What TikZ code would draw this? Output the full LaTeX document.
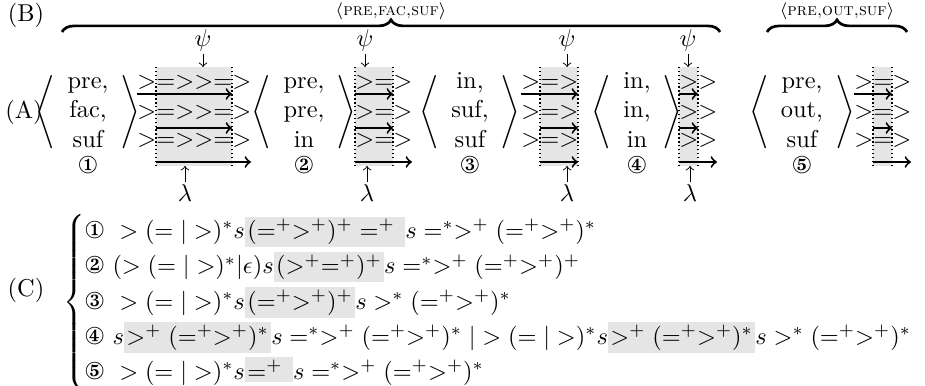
\documentclass[tikz,border=0pt]{standalone}
\usepackage{amsmath}
\usepackage{pifont}
\usetikzlibrary{decorations.pathreplacing}

\tikzset{
  llave/.style={decorate, decoration={brace, amplitude=5pt}, line width=1.1pt},
  sombra/.style={fill=gray!20, draw=none},
  limite/.style={densely dotted, semithick},
  flecha/.style={->, thick},
  marca/.style={->, thin},
  fila/.style={anchor=west, inner sep=0pt},
}
\newcommand{\resalte}[1]{{\setlength{\fboxsep}{1pt}\colorbox{gray!20}{$#1$}}}

\begin{document}
\begin{tikzpicture}[x=0.41pt, y=0.41pt]
  \useasboundingbox (0,0) rectangle (925,386);

  % Etiquetas
  \node (etqB) at (26,371) {(B)};
  \node[inner sep=0pt] (etqA) at (24,274) {(A)};
  \node (etqC) at (26,96) {(C)};

  % Llaves de arriba
  \draw[llave] (62,354) -- (720,354);
  \node[inner sep=0pt] (grupo1) at (391,375) {\scriptsize$\langle$\textsc{pre,fac,suf}$\rangle$};
  \draw[llave] (767,354) -- (907,354);
  \node[inner sep=0pt] (grupo2) at (837,375) {\scriptsize$\langle$\textsc{pre,out,suf}$\rangle$};

  % Tuplas
  \foreach \n/\x/\d/\a/\b/\c in {1/88/172/pre/fac/suf, 2/304/173/pre/pre/in,
      3/470/174/in/suf/suf, 4/637/175/in/in/in, 5/802/176/pre/out/suf} {
    \node (tupla\n) at (\x,274)
      {$\Biggl\langle\begin{array}{c}\text{\a,}\\\text{\b,}\\\text{\c}\end{array}\Biggr\rangle$};
    \node (num\n) at (\x,221) {\ding{\d}};
  }

  % Cajas
  \foreach \k/\s/\L/\R/\e/\cad in {1/137/156/232/251/{>=>>=>}, 2/355/355/393/412/{>=>},
      3/521/540/578/578/{>=>}, 4/679/679/698/717/{>>}, 5/854/873/892/911/{>=>}} {
    \fill[sombra] (\L,220) rectangle (\R,319);
    \draw[limite] (\L,220) -- (\L,319) (\R,220) -- (\R,319);
    \node[fila] (filaa\k) at (\s,304) {$\cad$};
    \node[fila] (filab\k) at (\s,274) {$\cad$};
    \node[fila] (filac\k) at (\s,246) {$\cad$};
    \draw[flecha] (\s,292) -- (\R,292);
    \draw[flecha] (\L,258) -- (\R,258);
    \draw[flecha] (\L,224) -- (\e,224);
  }

  % psi y lambda
  \foreach \k/\xp/\xl in {1/203/185, 2/365/367, 3/567/567, 4/688/690} {
    \node[inner sep=1pt] (psi\k) at (\xp,346) {$\psi$};
    \coordinate (tope\k) at (\xp,319);
    \draw[marca] (psi\k) -- (tope\k);
    \node[inner sep=1pt] (lambda\k) at (\xl,193) {$\lambda$};
    \coordinate (base\k) at (\xl,220);
    \draw[marca] (lambda\k) -- (base\k);
  }

  % Expresiones
  \node[anchor=west, inner sep=0pt] (exprs) at (63,84) {$\begin{cases}
    \text{\ding{172}}\ >(=|>)^*s\resalte{(=^+>^+)^+=^+\ }s=^*>^+(=^+>^+)^*\\
    \text{\ding{173}}\ (>(=|>)^*|\epsilon)s\resalte{(>^+=^+)^+}s=^*>^+(=^+>^+)^+\\
    \text{\ding{174}}\ >(=|>)^*s\resalte{(=^+>^+)^+}s>^*(=^+>^+)^*\\
    \text{\ding{175}}\ s\resalte{>^+(=^+>^+)^*}s=^*>^+(=^+>^+)^*\;|>(=|>)^*s\resalte{>^+(=^+>^+)^*}s>^*(=^+>^+)^*\\
    \text{\ding{176}}\ >(=|>)^*s\resalte{=^+\ }s=^*>^+(=^+>^+)^*
  \end{cases}$};
\end{tikzpicture}
\end{document}
